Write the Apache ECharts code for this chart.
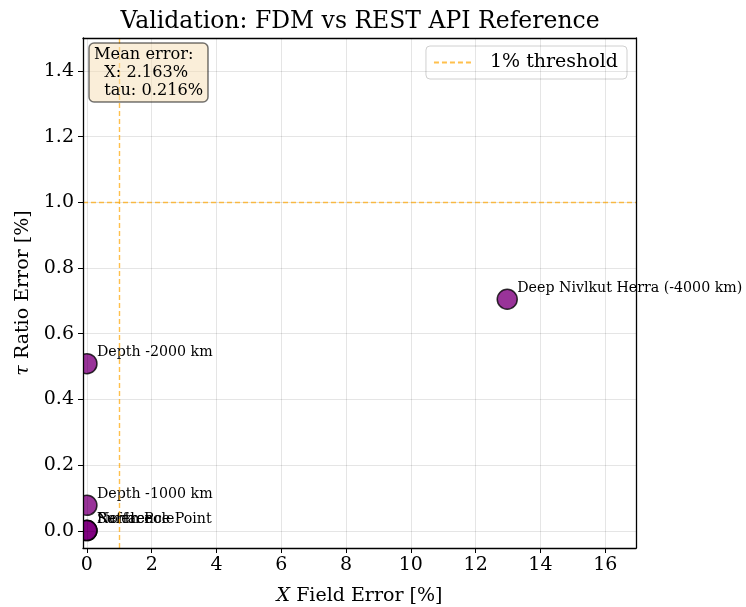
<!DOCTYPE html>
<html>
<head>
<meta charset="utf-8">
<script src="https://cdn.jsdelivr.net/npm/echarts@6/dist/echarts.min.js"></script>
<style>
  html, body { margin: 0; padding: 0; background: #fff; }
  #chart { width: 746px; height: 607px; }
</style>
</head>
<body>
<div id="chart"></div>
<script>
// Validation points: field error (X) and tau ratio error, both in percent
const pointNames = ['Surface', 'North Pole', 'Reference Point', 'Depth -1000 km', 'Depth -2000 km', 'Deep Nivlkut Herra (-4000 km)'];
const xFieldError = [0.0, 0.0, 0.0, 0.001, 0.002, 12.975];
const tauRatioError = [0.001, 0.002, 0.001, 0.078, 0.509, 0.705];

// Threshold and axis ticks
const thresholdPct = 1;
const xTicks = [0, 2, 4, 6, 8, 10, 12, 14, 16];
const yTicks = [0, 0.2, 0.4, 0.6, 0.8, 1.0, 1.2, 1.4];
const xRange = [-0.12, 16.95];
const yRange = [-0.052, 1.5];

const mean = a => a.reduce((s, v) => s + v, 0) / a.length;
const meanX = mean(xFieldError);
const meanTau = mean(tauRatioError);

const points = pointNames.map((n, i) => ({ name: n, value: [xFieldError[i], tauRatioError[i]] }));

const FONT = 'DejaVu Serif';
const thresholdColor = 'rgba(255,165,0,0.7)';
const MARKER_R = 10;

const chart = echarts.init(document.getElementById('chart'), null, { renderer: 'canvas' });

const baseAxis = {
  type: 'value',
  z: 5,
  axisLine: { show: true, onZero: false, lineStyle: { color: '#000', width: 1.3 } },
  axisTick: { show: true, inside: false, length: 5, lineStyle: { color: '#000', width: 1 } },
  axisLabel: { color: '#000', fontFamily: FONT, fontSize: 19 },
  splitLine: { show: true, lineStyle: { color: 'rgba(0,0,0,0.1)', width: 1 } },
  nameLocation: 'middle',
  nameTextStyle: { color: '#000', fontFamily: FONT, fontSize: 19,
    rich: { i: { fontStyle: 'italic', fontFamily: FONT, fontSize: 19, color: '#000' } } }
};

const frameAxis = {
  type: 'value',
  z: 5,
  axisLine: { show: true, onZero: false, lineStyle: { color: '#000', width: 1.3 } },
  axisTick: { show: false },
  axisLabel: { show: false },
  splitLine: { show: false }
};

chart.setOption({
  animation: false,
  backgroundColor: '#fff',
  title: [{
    text: 'Validation: FDM vs REST API Reference',
    left: 355,
    textAlign: 'center',
    top: 5,
    textStyle: { fontFamily: FONT, fontSize: 23.5, fontWeight: 'normal', color: '#000' }
  }, {
    text: 'Mean error:\n  X: ' + meanX.toFixed(3) + '%\n  tau: ' + meanTau.toFixed(3) + '%',
    left: 89,
    top: 43,
    padding: [3, 5, 2, 5],
    backgroundColor: 'rgba(245,222,179,0.5)',
    borderColor: 'rgba(0,0,0,0.55)',
    borderWidth: 1.5,
    borderRadius: 5,
    textStyle: { fontFamily: FONT, fontSize: 16.2, fontWeight: 'normal', color: '#000', lineHeight: 18 }
  }],
  legend: {
    data: ['1% threshold'],
    right: 119,
    top: 46,
    padding: [7, 9, 7, 7],
    itemWidth: 38,
    itemHeight: 12,
    itemGap: 10,
    backgroundColor: 'rgba(255,255,255,0.8)',
    borderColor: '#d0d0d0',
    borderWidth: 1,
    borderRadius: 4,
    itemStyle: { color: 'transparent', borderWidth: 0, opacity: 0 },
    textStyle: { fontFamily: FONT, fontSize: 19, color: '#000', padding: [0, 0, 0, 13] }
  },
  grid: { left: 83, right: 110, top: 38, bottom: 59, outerBoundsMode: 'none' },
  xAxis: [Object.assign({}, baseAxis, {
    min: xRange[0], max: xRange[1],
    position: 'bottom',
    name: '{i|X} Field Error [%]',
    nameGap: 39,
    axisTick: Object.assign({}, baseAxis.axisTick, { customValues: xTicks }),
    axisLabel: Object.assign({}, baseAxis.axisLabel, { customValues: xTicks, margin: 8 })
  }), Object.assign({}, frameAxis, { min: xRange[0], max: xRange[1], position: 'top' })],
  yAxis: [Object.assign({}, baseAxis, {
    min: yRange[0], max: yRange[1],
    position: 'left',
    name: '{i|τ} Ratio Error [%]',
    nameGap: 46,
    axisTick: Object.assign({}, baseAxis.axisTick, { customValues: yTicks }),
    axisLabel: Object.assign({}, baseAxis.axisLabel, { customValues: yTicks, margin: 9,
      formatter: v => v.toFixed(1) })
  }), Object.assign({}, frameAxis, { min: yRange[0], max: yRange[1], position: 'right' })],
  series: [{
    name: '1% threshold',
    type: 'line',
    data: [],
    symbol: 'none',
    lineStyle: { color: thresholdColor, type: [5, 3], width: 1.4 },
    itemStyle: { color: thresholdColor },
    markLine: {
      silent: true,
      symbol: 'none',
      label: { show: false },
      lineStyle: { color: thresholdColor, type: [5, 3], width: 1.4 },
      data: [{ xAxis: thresholdPct }, { yAxis: thresholdPct }]
    }
  }, {
    // markers, clipped to the plotting area
    name: 'points',
    type: 'custom',
    data: points,
    clip: true,
    encode: { x: 0, y: 1 },
    renderItem: (params, api) => {
      const c = api.coord([api.value(0), api.value(1)]);
      return {
        type: 'circle',
        shape: { cx: c[0], cy: c[1], r: MARKER_R },
        style: { fill: 'rgba(128,0,128,0.8)', stroke: 'rgba(0,0,0,0.8)', lineWidth: 1.5 }
      };
    },
    z: 3
  }, {
    // point names, drawn outside the clip so they may run past the frame
    name: 'labels',
    type: 'scatter',
    data: points,
    symbol: 'circle',
    symbolSize: 18,
    clip: false,
    silent: true,
    itemStyle: { color: 'transparent', borderWidth: 0, opacity: 1 },
    label: {
      show: true,
      position: 'right',
      distance: 1,
      offset: [0, -11],
      formatter: p => p.name,
      fontFamily: FONT,
      fontSize: 14.2,
      color: '#000',
      opacity: 1,
      textBorderWidth: 0
    },
    z: 4
  }]
});
</script>
</body>
</html>
